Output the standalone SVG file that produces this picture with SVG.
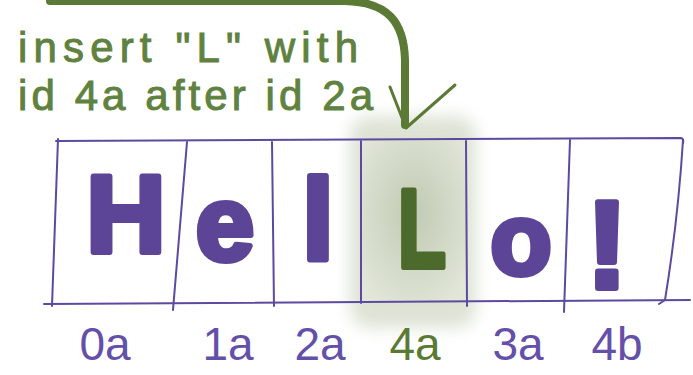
<svg xmlns="http://www.w3.org/2000/svg" width="693" height="375" viewBox="0 0 693 375">
  <defs>
    <filter id="blur" x="-30%" y="-30%" width="160%" height="160%">
      <feGaussianBlur stdDeviation="8"/>
    </filter>
    <radialGradient id="haze" cx="0.5" cy="0.45" r="0.65">
      <stop offset="0" stop-color="#bcc6ad"/>
      <stop offset="1" stop-color="#e2e7da"/>
    </radialGradient>
  </defs>
  <style>
    .cell { fill: none; stroke: #5d4aa0; stroke-width: 2; stroke-linecap: round; }
    .big { font-family: "Liberation Sans", Arial, sans-serif; font-weight: bold; text-anchor: middle; stroke-width: 6; stroke-linejoin: round; }
    .purple { fill: #5c4596; stroke: #5c4596; }
    .green { fill: #4b6a2b; stroke: #4b6a2b; }
    .lbl { font-family: "Liberation Sans", Arial, sans-serif; font-size: 46px; text-anchor: middle; }
    .lp { fill: #6450a8; }
    .lg { fill: #5a7a33; }
    .note { font-family: "Liberation Sans", Arial, sans-serif; font-size: 42px; fill: #5f8240; stroke: #5f8240; stroke-width: 1; }
    .arrow { fill: none; stroke: #5b7a36; stroke-linecap: round; stroke-linejoin: round; }
  </style>

  <g id="highlight">
    <rect x="350" y="116" width="126" height="212" rx="20" fill="#c3ccb4" opacity="0.55" filter="url(#blur)"/>
    <rect x="361" y="141" width="106" height="161" fill="url(#haze)" opacity="0.85"/>
  </g>

  <g id="connectors">
    <path class="arrow" stroke-width="8" d="M50,1 L345,1 C388,2 404,22 405,60 L405,125"/>
    <path class="arrow" stroke-width="3" d="M390,87 L406,128 L455,85"/>
  </g>

  <g id="note">
    <text class="note" x="18" y="62" textLength="340" lengthAdjust="spacing">insert "L" with</text>
    <text class="note" x="18" y="110" textLength="355" lengthAdjust="spacing">id 4a after id 2a</text>
  </g>

  <g id="row">
    <path class="cell" d="M56,141 L681,138 Q684,139 683,143"/>
    <path class="cell" d="M44,304 L690,300"/>
    <path class="cell" d="M58,139 L52,306"/>
    <path class="cell" d="M187,142 L173,310"/>
    <path class="cell" d="M272,142 L274,306"/>
    <path class="cell" d="M361,141 L361,303"/>
    <path class="cell" d="M466,141 L467,306"/>
    <path class="cell" d="M570,140 L564,312"/>
    <path class="cell" d="M683,140 Q678,220 665,300 L659,304"/>
  </g>

  <g id="cell-0a">
    <text class="big purple" x="126" y="252" font-size="110">H</text>
    <text class="lbl lp" x="105" y="360">0a</text>
  </g>
  <g id="cell-1a">
    <text class="big purple" x="225" y="260" font-size="105">e</text>
    <text class="lbl lp" x="228" y="360">1a</text>
  </g>
  <g id="cell-2a">
    <text class="big purple" x="318" y="260" font-size="115">l</text>
    <text class="lbl lp" x="320" y="360">2a</text>
  </g>
  <g id="cell-4a">
    <text class="big green" x="0" y="0" font-size="112" transform="translate(422,267) scale(0.7,1)">L</text>
    <text class="lbl lg" x="415" y="360">4a</text>
  </g>
  <g id="cell-3a">
    <text class="big purple" x="521" y="274" font-size="100">o</text>
    <text class="lbl lp" x="518" y="360">3a</text>
  </g>
  <g id="cell-4b">
    <text class="big purple" x="607" y="288" font-size="125">!</text>
    <text class="lbl lp" x="617" y="360">4b</text>
  </g>
</svg>
